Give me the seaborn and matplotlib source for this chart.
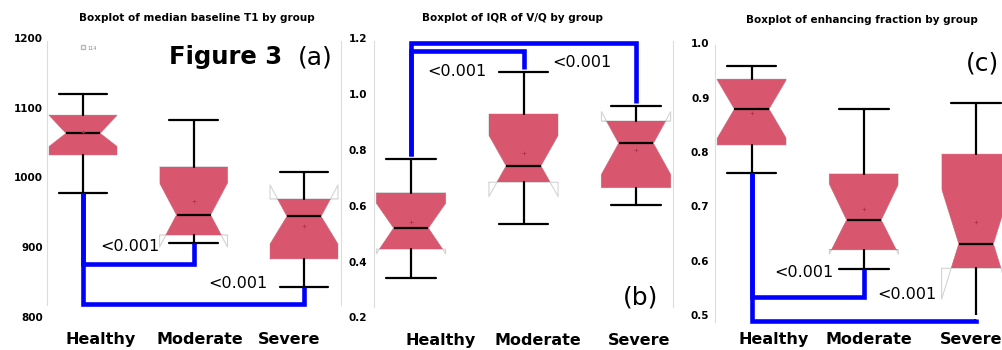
import numpy as np
import matplotlib
matplotlib.use('Agg')
import matplotlib.pyplot as plt
from matplotlib.patches import Rectangle
import seaborn as sns

# group names shared by the three panels
groups = ['Healthy', 'Moderate', 'Severe']

# (a) median baseline T1
t1_whislo = [977, 905, 843]
t1_q1 = [1032, 917, 883]
t1_med = [1063, 946, 944]
t1_q3 = [1089, 1015, 969]
t1_whishi = [1120, 1082, 1008]
t1_cilo = [1044, 900, 904]
t1_cihi = [1089, 992, 989]
t1_mean = [1065, 966, 930]
t1_fliers = [[1187], [], []]
t1_flier_ids = ['114']

# (b) IQR of V/Q
vq_whislo = [0.342, 0.534, 0.603]
vq_q1 = [0.444, 0.684, 0.665]
vq_med = [0.520, 0.743, 0.824]
vq_q3 = [0.647, 0.929, 0.904]
vq_whishi = [0.767, 1.080, 0.957]
vq_cilo = [0.428, 0.633, 0.712]
vq_cihi = [0.609, 0.853, 0.937]
vq_mean = [0.543, 0.788, 0.800]

# (c) enhancing fraction
ef_whislo = [0.761, 0.584, 0.493]
ef_q1 = [0.813, 0.620, 0.586]
ef_med = [0.879, 0.675, 0.631]
ef_q3 = [0.934, 0.760, 0.796]
ef_whishi = [0.959, 0.880, 0.891]
ef_cilo = [0.825, 0.612, 0.529]
ef_cihi = [0.933, 0.741, 0.733]
ef_mean = [0.871, 0.695, 0.671]

# significance brackets: (from group, to group, start level, bar level, end level)
t1_brackets = [(0, 1, 977, 875, 905), (0, 2, 977, 818, 843)]
vq_brackets = [(0, 2, 0.778, 1.184, 0.967), (0, 1, 0.778, 1.156, 1.089)]
ef_brackets = [(0, 1, 0.761, 0.534, 0.584), (0, 2, 0.761, 0.489, 0.493)]
p_text = '<0.001'

sns.set_style('white')
plt.rcParams['font.family'] = ['DejaVu Sans']
plt.rcParams['text.color'] = 'black'
plt.rcParams['xtick.color'] = 'black'
plt.rcParams['ytick.color'] = 'black'

box_col = '#d9566f'
grey = '#d4d4d4'


def make_stats(whislo, q1, med, q3, whishi, cilo, cihi, mean, fliers=None):
    stats = []
    for i in range(len(groups)):
        stats.append({
            'label': groups[i], 'whislo': whislo[i], 'q1': q1[i], 'med': med[i],
            'q3': q3[i], 'whishi': whishi[i], 'cilo': cilo[i], 'cihi': cihi[i],
            'mean': mean[i], 'fliers': np.array(fliers[i] if fliers else []),
        })
    return stats


def draw_panel(ax, stats, brackets, width=0.615):
    pos = np.arange(len(stats))
    # light grey outline of the full notch (shows where the notch pokes out of the box)
    ax.bxp(stats, positions=pos, widths=width, shownotches=True, showcaps=False,
           showfliers=False, patch_artist=False,
           boxprops=dict(color=grey, linewidth=0.8, zorder=1.5),
           whiskerprops=dict(visible=False), medianprops=dict(visible=False))
    # filled notched boxes
    bp = ax.bxp(stats, positions=pos, widths=width, capwidths=0.44, shownotches=True,
                patch_artist=True, showmeans=True,
                boxprops=dict(facecolor=box_col, edgecolor=box_col, linewidth=0.3, zorder=2),
                medianprops=dict(color='black', linewidth=1.6, zorder=4),
                whiskerprops=dict(color='black', linewidth=1.6, zorder=3),
                capprops=dict(color='black', linewidth=1.6, zorder=3),
                meanprops=dict(marker='+', markeredgecolor='#a8324a', markersize=3,
                               markeredgewidth=0.5, zorder=5),
                flierprops=dict(marker='s', markerfacecolor='none',
                                markeredgecolor='#b8b8b8', markersize=3))
    # keep the pink fill inside the hinges
    for p, s, patch in zip(pos, stats, bp['boxes']):
        clip = Rectangle((p - width / 2, s['q1']), width, s['q3'] - s['q1'],
                         transform=ax.transData)
        patch.set_clip_path(clip)

    for a, b, start, bar, end in brackets:
        ax.plot([a, a, b, b], [start, bar, bar, end], color='#0000ff',
                linewidth=3.3, solid_capstyle='butt', solid_joinstyle='miter',
                clip_on=False, zorder=6)

    ax.tick_params(axis='both', length=0)
    for side in ['top', 'bottom']:
        ax.spines[side].set_visible(False)
    for side in ['left', 'right']:
        ax.spines[side].set_color('#dcdcdc')
        ax.spines[side].set_linewidth(0.8)
    return bp


fig = plt.figure(figsize=(10.03, 3.5), dpi=100)

# ---- (a)
ax1 = fig.add_axes([0.0469, 0.0951, 0.2931, 0.797])
draw_panel(ax1, make_stats(t1_whislo, t1_q1, t1_med, t1_q3, t1_whishi,
                           t1_cilo, t1_cihi, t1_mean, t1_fliers), t1_brackets)
ax1.set_xlim(-0.326, 2.335)
ax1.set_ylim(800, 1200)
ax1.set_yticks([800, 900, 1000, 1100, 1200])
ax1.set_xticks([0.163, 1.054, 1.864])
ax1.spines['left'].set_bounds(817, 1195)
ax1.spines['right'].set_bounds(817, 1195)
ax1.annotate(t1_flier_ids[0], (0, t1_fliers[0][0]), xytext=(3, -1),
             textcoords='offset points', fontsize=3.5, color='#888888', va='center')
ax1.text(0.425, 900, p_text, fontsize=11.5, ha='center', va='center', zorder=7)
ax1.text(1.398, 848, p_text, fontsize=11.5, ha='center', va='center', zorder=7)
ax1.tick_params(axis='y', pad=3)

# ---- (b)
ax2 = fig.add_axes([0.3732, 0.0934, 0.2975, 0.797])
draw_panel(ax2, make_stats(vq_whislo, vq_q1, vq_med, vq_q3, vq_whishi,
                           vq_cilo, vq_cihi, vq_mean), vq_brackets)
ax2.set_xlim(-0.326, 2.326)
ax2.set_ylim(0.2, 1.2)
ax2.set_yticks([0.2, 0.4, 0.6, 0.8, 1.0, 1.2])
ax2.set_yticklabels(['0.2', '0.4', '0.6', '0.8', '1.0', '1.2'])
ax2.set_xticks([0.267, 1.13, 2.027])
ax2.spines['left'].set_bounds(0.238, 1.19)
ax2.spines['right'].set_bounds(0.238, 1.19)
ax2.text(0.409, 1.08, p_text, fontsize=11.5, ha='center', va='center', zorder=7)
ax2.text(1.52, 1.113, p_text, fontsize=11.5, ha='center', va='center', zorder=7)
ax2.tick_params(axis='y', pad=5)

# ---- (c)
ax3 = fig.add_axes([0.7129, 0.1, 0.2871, 0.7763])
draw_panel(ax3, make_stats(ef_whislo, ef_q1, ef_med, ef_q3, ef_whishi,
                           ef_cilo, ef_cihi, ef_mean), ef_brackets)
ax3.set_xlim(-0.327, 2.24)
ax3.set_ylim(0.5, 1.0)
ax3.set_yticks([0.5, 0.6, 0.7, 0.8, 0.9, 1.0])
ax3.set_yticklabels(['0.5', '0.6', '0.7', '0.8', '0.9', '1.0'])
ax3.set_xticks([0.194, 1.047, 1.955])
ax3.spines['left'].set_bounds(0.488, 0.997)
ax3.text(0.466, 0.578, p_text, fontsize=11.5, ha='center', va='center', zorder=7)
ax3.text(1.38, 0.537, p_text, fontsize=11.5, ha='center', va='center', zorder=7)
ax3.tick_params(axis='y', pad=4)

for ax, pad in zip([ax1, ax2, ax3], [11, 11, 12]):
    ax.set_xticklabels(groups, fontsize=11.5, fontweight='bold')
    ax.tick_params(axis='x', pad=pad)
    for lab in ax.get_yticklabels():
        lab.set_fontsize(7.5)
        lab.set_fontweight('bold')

# panel titles
fig.text(0.196, 0.949, 'Boxplot of median baseline T1 by group', fontsize=7.5,
         fontweight='bold', ha='center', va='center')
fig.text(0.5105, 0.949, 'Boxplot of IQR of V/Q by group', fontsize=7.5,
         fontweight='bold', ha='center', va='center')
fig.text(0.859, 0.943, 'Boxplot of enhancing fraction by group', fontsize=7.5,
         fontweight='bold', ha='center', va='center')

# figure labels
fig.text(0.2253, 0.837, 'Figure 3', fontsize=17.5, fontweight='bold',
         ha='center', va='center')
fig.text(0.3146, 0.837, '(a)', fontsize=18, ha='center', va='center')
fig.text(0.639, 0.149, '(b)', fontsize=18, ha='center', va='center')
fig.text(0.980, 0.82, '(c)', fontsize=18, ha='center', va='center')

plt.savefig('out.png', dpi=100)
